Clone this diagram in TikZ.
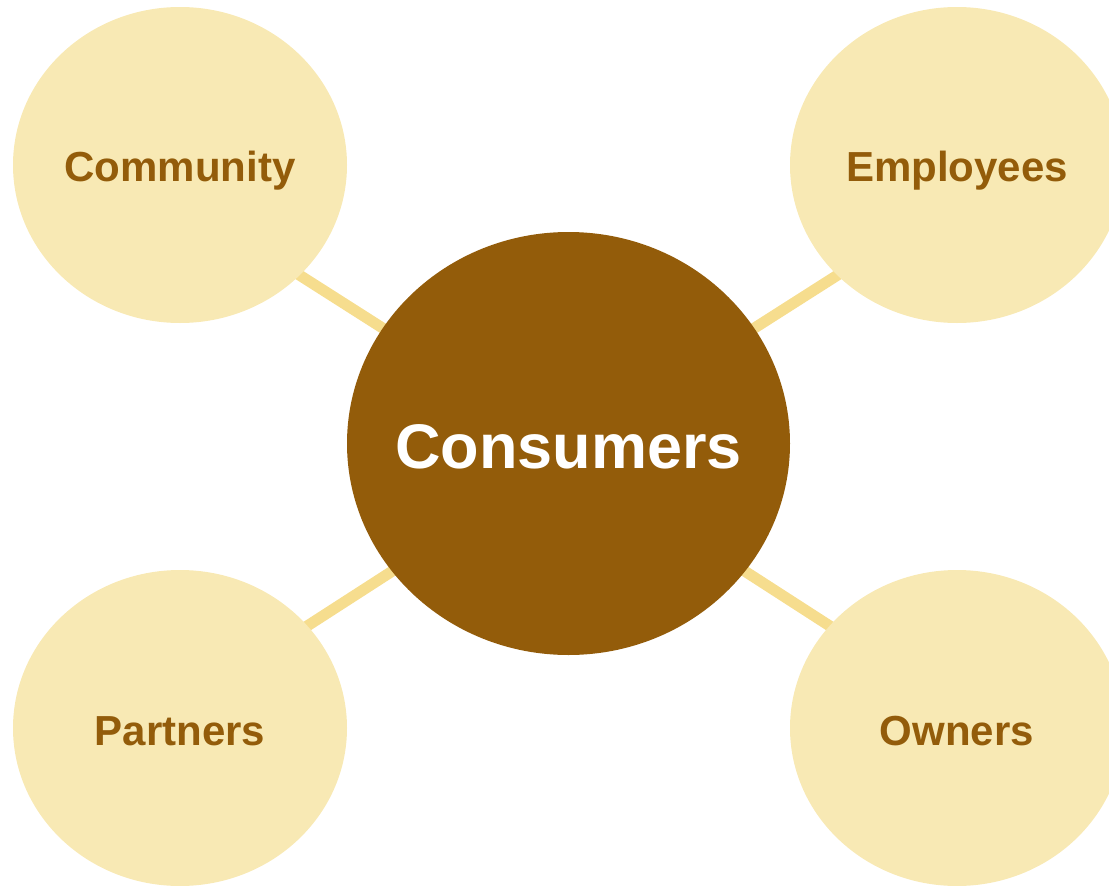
\documentclass[tikz,border=0pt]{standalone}
\usepackage{fontspec}
\setmainfont{Liberation Sans}
\usetikzlibrary{shapes.geometric,backgrounds}
\definecolor{paleGold}{HTML}{F8E9B4}
\definecolor{linkGold}{HTML}{F6DD8E}
\definecolor{deepBrown}{HTML}{935C0A}
% zero-width label so the ellipse size comes from the minimum sizes only
\newcommand{\zerowide}[1]{\makebox[0pt][c]{#1}}
\tikzset{
  hub/.style={ellipse, fill=deepBrown, inner sep=0pt,
    minimum width=443pt, minimum height=423pt,
    text=white, font=\fontsize{63}{70}\selectfont\bfseries,
    text height=49pt, text depth=0pt},
  spoke/.style={ellipse, fill=paleGold, inner sep=0pt,
    minimum width=334pt, minimum height=316pt,
    text=deepBrown, font=\fontsize{42}{48}\selectfont\bfseries,
    text depth=0pt},
  upper/.style={text height=32pt},
  lower/.style={text height=35pt},
  link/.style={draw=linkGold, line width=11pt}
}
\begin{document}
\begin{tikzpicture}[x=1pt,y=-1pt]
  \useasboundingbox (0,0) rectangle (1109,886);
  \clip (0,0) rectangle (1109,886);
  \node[hub] (cons) at (568.5,443.5) {\zerowide{Consumers}};
  \node[spoke, upper] (comm) at (180,165) {\zerowide{Community}};
  \node[spoke, upper] (empl) at (957,165) {\zerowide{Employees}};
  \node[spoke, lower] (part) at (180,728) {\zerowide{Partners}};
  \node[spoke, lower] (own)  at (957,728) {\zerowide{Owners}};
  \begin{scope}[on background layer]
    \draw[link] ([yshift=-34pt]comm.center) -- ([yshift=-3pt]cons.center);
    \draw[link] ([yshift=-34pt]empl.center) -- ([yshift=-3pt]cons.center);
    \draw[link] ([yshift=20pt]part.center)  -- ([yshift=-14pt]cons.center);
    \draw[link] ([yshift=20pt]own.center)   -- ([yshift=-14pt]cons.center);
  \end{scope}
\end{tikzpicture}
\end{document}
